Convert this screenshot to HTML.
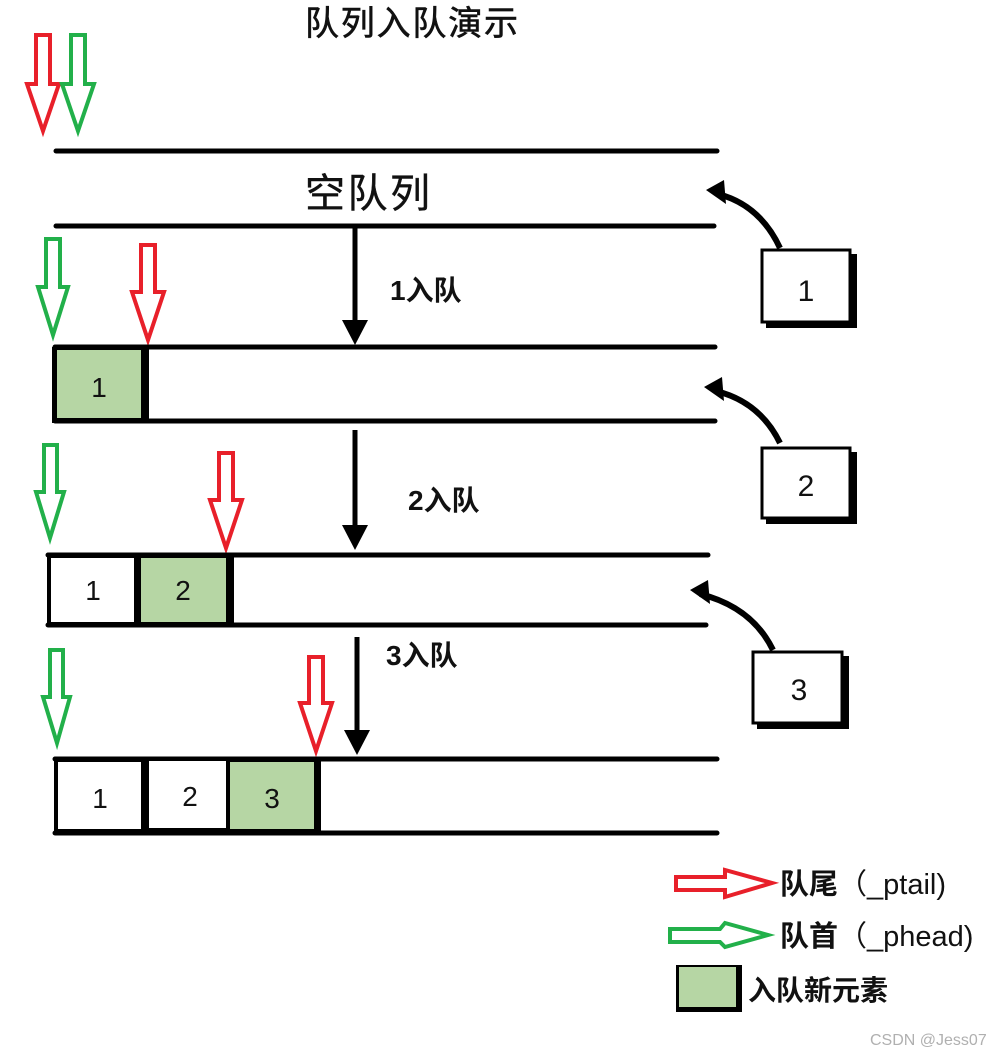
<!DOCTYPE html>
<html><head><meta charset="utf-8"><style>
html,body{margin:0;padding:0;background:#fff;}
svg{display:block;}
text{font-family:"Liberation Sans","Noto Sans CJK SC",sans-serif;}
</style></head><body>
<svg width="1008" height="1056" viewBox="0 0 1008 1056" xmlns="http://www.w3.org/2000/svg">
<rect width="1008" height="1056" fill="#fff"/>
<text x="305" y="35" font-size="34" fill="#111" stroke="#111" stroke-width="0.6" textLength="213">队列入队演示</text>

<g fill="#fff" stroke-width="4" stroke-linejoin="miter">
<polygon stroke="#e8202a" points="36,35 50,35 50,84 59,84 43,131 27,84 36,84"/>
<polygon stroke="#22b04a" points="71,35 85,35 85,84 94,84 78,131 62,84 71,84"/>
<polygon stroke="#22b04a" points="46,239 60,239 60,287 68,287 53,335 38,287 46,287"/>
<polygon stroke="#e8202a" points="141,245 155,245 155,292 164,292 148,340 132,292 141,292"/>
<polygon stroke="#22b04a" points="44,445 57,445 57,492 64,492 50,538 36,492 44,492"/>
<polygon stroke="#e8202a" points="219,453 233,453 233,500 242,500 226,548 210,500 219,500"/>
<polygon stroke="#22b04a" points="50,650 63,650 63,697 70,697 57,743 43,697 50,697"/>
<polygon stroke="#e8202a" points="309,657 323,657 323,703 332,703 316,751 300,703 309,703"/>
</g>

<g stroke="#000" stroke-width="5" stroke-linecap="round">
<line x1="56" y1="151" x2="717" y2="151"/>
<line x1="56" y1="226" x2="714" y2="226"/>
<line x1="55" y1="347" x2="715" y2="347"/>
<line x1="55" y1="421" x2="715" y2="421"/>
<line x1="48" y1="555" x2="708" y2="555"/>
<line x1="48" y1="625" x2="706" y2="625"/>
<line x1="55" y1="759" x2="717" y2="759"/>
<line x1="55" y1="833" x2="717" y2="833"/>
</g>
<text x="305" y="207" font-size="40" fill="#111" stroke="#111" stroke-width="0.4" textLength="125">空队列</text>

<rect x="52" y="347" width="97" height="76" fill="#000"/>
<rect x="57" y="350" width="84" height="68" fill="#b6d6a4"/>
<text x="99" y="397" font-size="28" text-anchor="middle" fill="#111">1</text>
<rect x="47" y="554" width="187" height="73" fill="#000"/>
<rect x="51" y="558" width="83" height="64" fill="#fff"/>
<rect x="141" y="558" width="85" height="64" fill="#b6d6a4"/>
<text x="93" y="600" font-size="28" text-anchor="middle" fill="#111">1</text>
<text x="183" y="600" font-size="28" text-anchor="middle" fill="#111">2</text>
<rect x="54" y="758" width="267" height="77" fill="#000"/>
<rect x="58" y="762" width="83" height="67" fill="#fff"/>
<rect x="149" y="761" width="77" height="67" fill="#fff"/>
<rect x="230" y="762" width="84" height="67" fill="#b6d6a4"/>
<text x="100" y="808" font-size="28" text-anchor="middle" fill="#111">1</text>
<text x="190" y="806" font-size="28" text-anchor="middle" fill="#111">2</text>
<text x="272" y="808" font-size="28" text-anchor="middle" fill="#111">3</text>

<g stroke="#000" stroke-width="5">
<line x1="355" y1="228" x2="355" y2="325"/>
<line x1="355" y1="430" x2="355" y2="530"/>
<line x1="357" y1="637" x2="357" y2="735"/>
</g>
<g fill="#000">
<polygon points="342,320 368,320 355,345"/>
<polygon points="342,525 368,525 355,550"/>
<polygon points="344,730 370,730 357,755"/>
</g>
<text x="390" y="300" font-size="28" font-weight="bold" fill="#111">1入队</text>
<text x="408" y="510" font-size="28" font-weight="bold" fill="#111">2入队</text>
<text x="386" y="665" font-size="28" font-weight="bold" fill="#111">3入队</text>

<g fill="none" stroke="#000" stroke-width="6">
<path d="M780,248 Q760,205 718,194"/>
<path d="M780,443 Q760,402 716,391"/>
<path d="M773,650 Q752,607 700,594"/>
</g>
<g fill="#000">
<polygon points="706,190 724,180 726,204"/>
<polygon points="704,387 722,377 724,401"/>
<polygon points="690,590 708,580 710,604"/>
</g>

<g>
<rect x="766" y="254" width="91" height="74" fill="#000"/>
<rect x="762" y="250" width="88" height="72" fill="#fff" stroke="#000" stroke-width="3"/>
<text x="806" y="301" font-size="30" text-anchor="middle" fill="#111">1</text>
<rect x="766" y="452" width="91" height="72" fill="#000"/>
<rect x="762" y="448" width="88" height="70" fill="#fff" stroke="#000" stroke-width="3"/>
<text x="806" y="496" font-size="30" text-anchor="middle" fill="#111">2</text>
<rect x="757" y="656" width="92" height="73" fill="#000"/>
<rect x="753" y="652" width="89" height="71" fill="#fff" stroke="#000" stroke-width="3"/>
<text x="799" y="700" font-size="30" text-anchor="middle" fill="#111">3</text>
</g>

<polygon fill="#fff" stroke="#e8202a" stroke-width="4" points="676,877 725,877 725,870 772,883 725,897 725,890 676,890"/>
<polygon fill="#fff" stroke="#22b04a" stroke-width="4" points="670,929 720,929 725,923 768,935 725,947 720,942 670,942"/>
<text x="780" y="894" font-size="29" fill="#111"><tspan font-weight="bold">队尾</tspan>（_ptail)</text>
<text x="780" y="946" font-size="29" fill="#111"><tspan font-weight="bold">队首</tspan>（_phead)</text>
<rect x="676" y="965" width="66" height="47" fill="#000"/>
<rect x="679" y="967" width="57" height="40" fill="#b6d6a4"/>
<text x="748" y="1000" font-size="28" font-weight="bold" fill="#111">入队新元素</text>
<text x="870" y="1045" font-size="16" fill="#b0b0b0">CSDN @Jess07</text>
</svg>
</body></html>
